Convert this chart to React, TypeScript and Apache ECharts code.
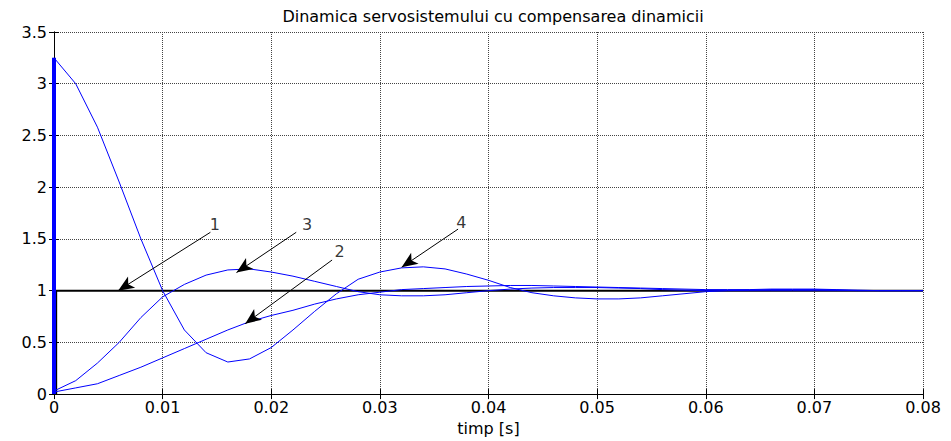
import React, { useEffect, useRef } from "react";
import * as echarts from "echarts";

const titleText = "Dinamica servosistemului cu compensarea dinamicii";
const xName = "timp [s]";

const times = [
  0, 0.002, 0.004, 0.006, 0.008, 0.01, 0.012, 0.014, 0.016, 0.018,
  0.02, 0.022, 0.024, 0.026, 0.028, 0.03, 0.032, 0.034, 0.036, 0.038,
  0.04, 0.042, 0.044, 0.046, 0.048, 0.05, 0.052, 0.054, 0.056, 0.058,
  0.06, 0.062, 0.064, 0.066, 0.068, 0.07, 0.072, 0.074, 0.076, 0.078, 0.08,
];

// curve 2: slow rise
const curve2 = [
  0.02, 0.06, 0.1, 0.18, 0.26, 0.35, 0.44, 0.53, 0.62, 0.7,
  0.76, 0.81, 0.87, 0.92, 0.96, 0.985, 1.01, 1.02, 1.03, 1.04,
  1.045, 1.05, 1.05, 1.045, 1.04, 1.035, 1.03, 1.025, 1.02, 1.015,
  1.01, 1.01, 1.01, 1.015, 1.015, 1.015, 1.01, 1.005, 1.0, 1.0, 1.0,
];

// curve 3: peak ~1.2 at 0.017
const curve3 = [
  0.03, 0.13, 0.3, 0.5, 0.74, 0.94, 1.06, 1.15, 1.2, 1.21,
  1.18, 1.14, 1.09, 1.04, 0.99, 0.96, 0.95, 0.95, 0.96, 0.98,
  1.0, 1.015, 1.025, 1.03, 1.03, 1.03, 1.025, 1.02, 1.01, 1.005,
  1.0, 1.0, 1.0, 1.0, 1.0, 1.0, 1.0, 1.0, 1.0, 1.0, 1.0,
];

// curve 4: starts at 3.25, dips, peaks ~1.23 at 0.034
const curve4 = [
  3.25, 3.0, 2.58, 2.05, 1.5, 1.0, 0.62, 0.4, 0.31, 0.34,
  0.45, 0.62, 0.8, 0.97, 1.11, 1.18, 1.22, 1.23, 1.21, 1.16,
  1.1, 1.03, 0.98, 0.95, 0.93, 0.92, 0.92, 0.93, 0.95, 0.97,
  0.99, 1.0, 1.005, 1.01, 1.01, 1.01, 1.005, 1.0, 1.0, 1.0, 1.0,
];

// curve 1: reference step
const stepT = [0, 0.0002, 0.0002, 0.08];
const stepV = [0, 0, 1, 1];

// initial jump of curve 4
const jumpT = [0, 0];
const jumpV = [0, 3.25];

// arrows
const arrowLabels = ["1", "2", "3", "4"];
const arrowLabelT = [0.0148, 0.0263, 0.0233, 0.0375];
const arrowLabelV = [1.64, 1.374, 1.64, 1.66];
const arrowStartT = [0.0144, 0.0256, 0.0223, 0.0372];
const arrowStartV = [1.564, 1.296, 1.564, 1.595];
const arrowTipT = [0.0059, 0.0176, 0.0168, 0.032];
const arrowTipV = [1.0, 0.68, 1.175, 1.226];

const zip = (a: number[], b: number[]) => a.map((x, i) => [x, b[i]]);

const FONT = "'DejaVu Sans', Verdana, sans-serif";

export default function App() {
  const ref = useRef<HTMLDivElement>(null);
  useEffect(() => {
    if (!ref.current) return;
    const chart = echarts.init(ref.current, null, { renderer: "svg" });
    const gridLine = { show: true, lineStyle: { color: "#444", type: "dotted" as const, width: 1 } };
    const axLine = { show: true, lineStyle: { color: "#000", width: 1 } };
    const tick = { show: true, inside: true, length: 5, lineStyle: { color: "#000" } };
    chart.setOption({
      animation: false,
      backgroundColor: "#fff",
      textStyle: { fontFamily: FONT },
      title: {
        text: titleText,
        left: 488,
        textAlign: "center",
        top: 3,
        textStyle: { fontSize: 16, fontWeight: "normal", color: "#000", fontFamily: FONT },
      },
      grid: { left: 54, right: 28, top: 32, bottom: 41, containLabel: false },
      xAxis: [
        {
          type: "value",
          min: 0,
          max: 0.08,
          interval: 0.01,
          position: "bottom",
          name: xName,
          nameLocation: "middle",
          nameGap: 23,
          nameTextStyle: { fontSize: 16, color: "#000", fontFamily: FONT },
          axisLine: axLine,
          axisTick: tick,
          splitLine: gridLine,
          axisLabel: {
            fontSize: 16,
            color: "#000",
            margin: 5,
            fontFamily: FONT,
            formatter: (v: number) => (v === 0 ? "0" : v.toFixed(2)),
          },
        },
        {
          type: "value",
          min: 0,
          max: 0.08,
          interval: 0.01,
          position: "top",
          axisLine: axLine,
          axisTick: tick,
          splitLine: { show: false },
          axisLabel: { show: false },
        },
      ],
      yAxis: [
        {
          type: "value",
          min: 0,
          max: 3.5,
          interval: 0.5,
          position: "left",
          axisLine: axLine,
          axisTick: tick,
          splitLine: gridLine,
          axisLabel: { fontSize: 16, color: "#000", margin: 7, fontFamily: FONT },
        },
        {
          type: "value",
          min: 0,
          max: 3.5,
          interval: 0.5,
          position: "right",
          axisLine: axLine,
          axisTick: tick,
          splitLine: { show: false },
          axisLabel: { show: false },
        },
      ],
      series: [
        {
          type: "line",
          data: zip(stepT, stepV),
          showSymbol: false,
          lineStyle: { color: "#000", width: 2 },
          silent: true,
          z: 2,
        },
        {
          type: "line",
          data: zip(jumpT, jumpV),
          showSymbol: false,
          lineStyle: { color: "#0000ff", width: 4 },
          silent: true,
          z: 3,
        },
        {
          type: "line",
          data: zip(times, curve2),
          showSymbol: false,
          lineStyle: { color: "#0000ff", width: 1 },
          silent: true,
          z: 3,
        },
        {
          type: "line",
          data: zip(times, curve3),
          showSymbol: false,
          lineStyle: { color: "#0000ff", width: 1 },
          silent: true,
          z: 3,
        },
        {
          type: "line",
          data: zip(times, curve4),
          showSymbol: false,
          lineStyle: { color: "#0000ff", width: 1 },
          silent: true,
          z: 3,
        },
        {
          type: "line",
          data: [],
          silent: true,
          z: 5,
          markLine: {
            silent: true,
            symbol: ["none", "arrow"],
            symbolSize: [10, 16],
            label: { show: false },
            lineStyle: { color: "#000", width: 1, type: "solid" },
            itemStyle: { color: "#000" },
            data: arrowLabels.map((_, i) => [
              { coord: [arrowStartT[i], arrowStartV[i]] },
              { coord: [arrowTipT[i], arrowTipV[i]] },
            ]),
          },
        },
        {
          type: "scatter",
          symbolSize: 0,
          silent: true,
          z: 6,
          data: arrowLabels.map((n, i) => ({ name: n, value: [arrowLabelT[i], arrowLabelV[i]] })),
          label: {
            show: true,
            position: "inside",
            formatter: (p: any) => p.name,
            fontSize: 16,
            color: "#000",
            fontFamily: FONT,
          },
        },
      ],
    });
    return () => chart.dispose();
  }, []);
  return <div ref={ref} style={{ width: 951, height: 441, position: "absolute", left: 0, top: 0 }} />;
}
